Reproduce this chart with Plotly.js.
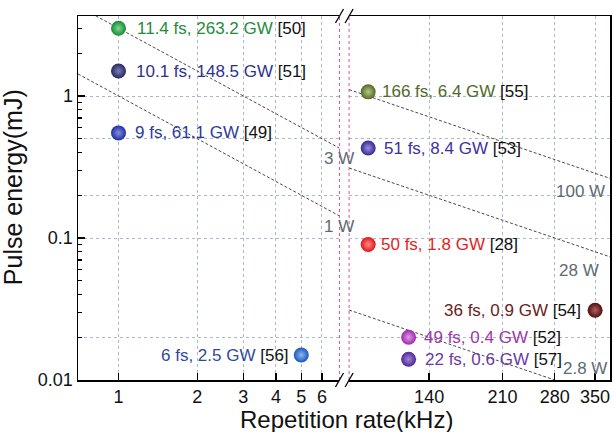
<!DOCTYPE html>
<html>
<head>
<meta charset="utf-8">
<script src="https://cdn.plot.ly/plotly-3.0.1.min.js"></script>
<style>html,body{margin:0;padding:0;background:#fff;}#chart{width:614px;height:432px;}</style>
</head>
<body>
<div id="chart"></div>
<script>
// ---------- data ----------
const leftRate   = [1, 1, 1, 5];
const leftEnergy = [3.0, 1.5, 0.55, 0.015];
const leftLabel  = ['11.4 fs, 263.2 GW', '10.1 fs, 148.5 GW', '9 fs, 61.1 GW', '6 fs, 2.5 GW'];
const leftRef    = ['[50]', '[51]', '[49]', '[56]'];

const rightRate   = [100, 100, 100, 125, 125, 350];
const rightEnergy = [1.07, 0.43, 0.09, 0.02, 0.014, 0.031];
const rightLabel  = ['166 fs, 6.4 GW', '51 fs, 8.4 GW', '50 fs, 1.8 GW', '49 fs, 0.4 GW', '22 fs, 0.6 GW', '36 fs, 0.9 GW'];
const rightRef    = ['[55]', '[53]', '[28]', '[52]', '[57]', '[54]'];

// iso-power reference lines (end points)
const isoLeftRate  = [0.7, 7];
const iso3W        = [4.29, 0.429];
const iso1W        = [1.43, 0.143];
const isoRightRate = [90, 380];
const iso100W      = [1.11, 0.263];
const iso28W       = [0.311, 0.0737];
const iso2p8W      = [0.0311, 0.00737];
const isoLeftNames  = ['3 W', '1 W'];
const isoRightNames = ['100 W', '28 W', '2.8 W'];

// axes
const xLeftTicks  = [1, 2, 3, 4, 5, 6];
const xRightTicks = [140, 210, 280, 350];
const yTicks      = [0.01, 0.1, 1];
const yTickText   = ['0.01', '0.1', '1'];
const yExtraGrid  = [0.02, 0.2, 0.5];
const xLeftRange  = [0.7, 7];
const xRightRange = [90, 380];
const yRange      = [0.01, 3.66];

// ---------- styles ----------
const leftColor  = ['#178a35', '#26295f', '#1f2f9e', '#1a55bb'];
const leftHi     = ['#7fd890', '#7a7eb8', '#8490e0', '#90b8f0'];
const leftText   = ['#1f8b3b', '#2e3192', '#2b3a9e', '#2f4a9a'];
const leftShift  = [16, 15, 14, -10];
const rightColor = ['#566824', '#362692', '#e01414', '#9a2aaa', '#502494', '#520c0f'];
const rightHi    = ['#b8c888', '#9890e0', '#ff8c8c', '#e09ae8', '#a088d8', '#b06060'];
const rightText  = ['#4f6a2a', '#3d2f9f', '#e41e1e', '#9b37aa', '#6a3aa8', '#6b2020'];
const rightShift = [12, 14, 11, 13, 14, -12];

const FONT = 'Arial, "Liberation Sans", sans-serif';
const gridColor = '#a9b8ca';
const isoColor = '#4a4a4a';
const isoLabelColor = '#5d6b72';
const pink = '#e0509c';
const L = Math.log10;

const traces = [];
function iso(x, y, xa, ya) {
  traces.push({x: x, y: y, xaxis: xa, yaxis: ya, mode: 'lines', hoverinfo: 'skip',
    line: {color: isoColor, width: 1, dash: '3px,2px'}});
}
iso(isoLeftRate, iso3W, 'x', 'y');
iso(isoLeftRate, iso1W, 'x', 'y');
iso(isoRightRate, iso100W, 'x2', 'y2');
iso(isoRightRate, iso28W, 'x2', 'y2');
iso(isoRightRate, iso2p8W, 'x2', 'y2');

traces.push({x: leftRate, y: leftEnergy, xaxis: 'x', yaxis: 'y', mode: 'markers',
  marker: {size: 15, color: leftColor, line: {width: 0}, gradient: {type: 'radial', color: leftHi}}});
traces.push({x: rightRate, y: rightEnergy, xaxis: 'x2', yaxis: 'y2', mode: 'markers',
  marker: {size: 15, color: rightColor, line: {width: 0}, gradient: {type: 'radial', color: rightHi}}});
traces.push({x: [], y: [], xaxis: 'x', yaxis: 'y3', mode: 'markers', hoverinfo: 'skip'});

const annotations = [];
function ptLabels(rate, energy, label, ref, tcol, shift, xr, yr) {
  rate.forEach((f, i) => {
    annotations.push({
      xref: xr, yref: yr, x: L(f), y: L(energy[i]),
      text: '<span style="color:' + tcol[i] + '">' + label[i] + '</span> ' + ref[i],
      showarrow: false, xanchor: shift[i] > 0 ? 'left' : 'right', yanchor: 'middle',
      xshift: shift[i], yshift: 0,
      font: {family: FONT, size: 17, color: '#111'}
    });
  });
}
ptLabels(leftRate, leftEnergy, leftLabel, leftRef, leftText, leftShift, 'x', 'y');
ptLabels(rightRate, rightEnergy, rightLabel, rightRef, rightText, rightShift, 'x2', 'y2');

// iso line labels
[iso3W, iso1W].forEach((e, i) => {
  annotations.push({xref: 'x', yref: 'y', x: L(isoLeftRate[1]), y: L(e[1]),
    text: isoLeftNames[i], showarrow: false, xanchor: 'center', yanchor: 'top', yshift: 1,
    font: {family: FONT, size: 17, color: isoLabelColor}});
});
[iso100W, iso28W, iso2p8W].forEach((e, i) => {
  const yv = Math.max(e[1], yRange[0]);
  const bottom = e[1] < yRange[0];
  annotations.push({xref: 'x2', yref: 'y2', x: L(isoRightRate[1]), y: L(yv),
    text: isoRightNames[i], showarrow: false, xanchor: 'right',
    yanchor: bottom ? 'bottom' : 'top', xshift: [-3, -9, -1][i], yshift: bottom ? 0 : -2,
    font: {family: FONT, size: 17, color: isoLabelColor}});
});

// axis titles
annotations.push({xref: 'paper', yref: 'paper', x: 0.504, y: -0.109, xanchor: 'center', yanchor: 'middle',
  text: 'Repetition rate(kHz)', showarrow: false, font: {family: FONT, size: 24, color: '#111'}});
annotations.push({xref: 'paper', yref: 'paper', x: -0.122, y: 0.53, xanchor: 'center', yanchor: 'middle',
  text: 'Pulse energy(mJ)', textangle: -90, showarrow: false, font: {family: FONT, size: 25, color: '#111'}});

// break decorations (at the ends of the two x-axis segments)
const plotW = 614 - 78 - 4, plotH = 432 - 16 - 52;
const leftDomain = [0, 0.4915], rightDomain = [0.5096, 1];
const shapes = [];
[leftDomain[1], rightDomain[0]].forEach(px => {
  shapes.push({type: 'line', xref: 'paper', yref: 'paper', x0: px, x1: px, y0: 0, y1: 1,
    line: {color: pink, width: 1, dash: 'dot'}});
  [0, 1].forEach(py => {
    shapes.push({type: 'line', xref: 'paper', yref: 'paper',
      x0: px - 4 / plotW, x1: px + 4 / plotW, y0: py - 7 / plotH, y1: py + 7 / plotH,
      line: {color: '#000', width: 1.3}});
  });
});

const tickFont = {family: FONT, size: 18, color: '#111'};
const minorY = [];
[0.01, 0.1, 1].forEach(d => { for (let k = 2; k <= 9; k++) { const v = +(k * d).toPrecision(3); if (v < yRange[1]) minorY.push(v); } });

const layout = {
  width: 614, height: 432,
  margin: {l: 78, r: 4, t: 16, b: 52},
  paper_bgcolor: '#fff', plot_bgcolor: '#fff',
  showlegend: false,
  font: {family: FONT},
  xaxis: {type: 'log', domain: leftDomain, range: [L(xLeftRange[0]), L(xLeftRange[1])], anchor: 'y',
    tickmode: 'array', tickvals: xLeftTicks, ticktext: xLeftTicks.map(String),
    ticks: 'inside', ticklen: 7, tickwidth: 1.3, tickcolor: '#000', tickfont: tickFont,
    showline: true, mirror: true, linecolor: '#000', linewidth: 1.5,
    showgrid: true, gridcolor: gridColor, griddash: 'dot', gridwidth: 1, zeroline: false},
  xaxis2: {type: 'log', domain: rightDomain, range: [L(xRightRange[0]), L(xRightRange[1])], anchor: 'y2',
    tickmode: 'array', tickvals: xRightTicks, ticktext: xRightTicks.map(String),
    ticks: 'inside', ticklen: 7, tickwidth: 1.3, tickcolor: '#000', tickfont: tickFont,
    showline: true, mirror: true, linecolor: '#000', linewidth: 1.5,
    showgrid: true, gridcolor: gridColor, griddash: 'dot', gridwidth: 1, zeroline: false},
  yaxis: {type: 'log', range: [L(yRange[0]), L(yRange[1])], anchor: 'x',
    tickmode: 'array', tickvals: yTicks, ticktext: yTickText,
    ticks: 'inside', ticklen: 7, tickwidth: 1.3, tickcolor: '#000', tickfont: tickFont,
    showline: true, linecolor: '#000', linewidth: 1.5,
    showgrid: true, gridcolor: gridColor, griddash: 'dot', gridwidth: 1, zeroline: false,
    minor: {tickmode: 'array', tickvals: minorY, ticks: 'inside', ticklen: 4, tickcolor: '#000', showgrid: false}},
  yaxis3: {type: 'log', range: [L(yRange[0]), L(yRange[1])], overlaying: 'y', anchor: 'x',
    tickmode: 'array', tickvals: yExtraGrid, showticklabels: false, ticks: '',
    showgrid: true, gridcolor: gridColor, griddash: 'dot', gridwidth: 1, showline: false, zeroline: false},
  yaxis2: {type: 'log', range: [L(yRange[0]), L(yRange[1])], anchor: 'x2', side: 'right',
    tickmode: 'array', tickvals: yTicks.concat(yExtraGrid), showticklabels: false, ticks: '',
    showline: true, linecolor: '#000', linewidth: 1.5,
    showgrid: true, gridcolor: gridColor, griddash: 'dot', gridwidth: 1, zeroline: false},
  annotations: annotations,
  shapes: shapes
};

Plotly.newPlot('chart', traces, layout, {staticPlot: true, displayModeBar: false});
</script>
</body>
</html>
